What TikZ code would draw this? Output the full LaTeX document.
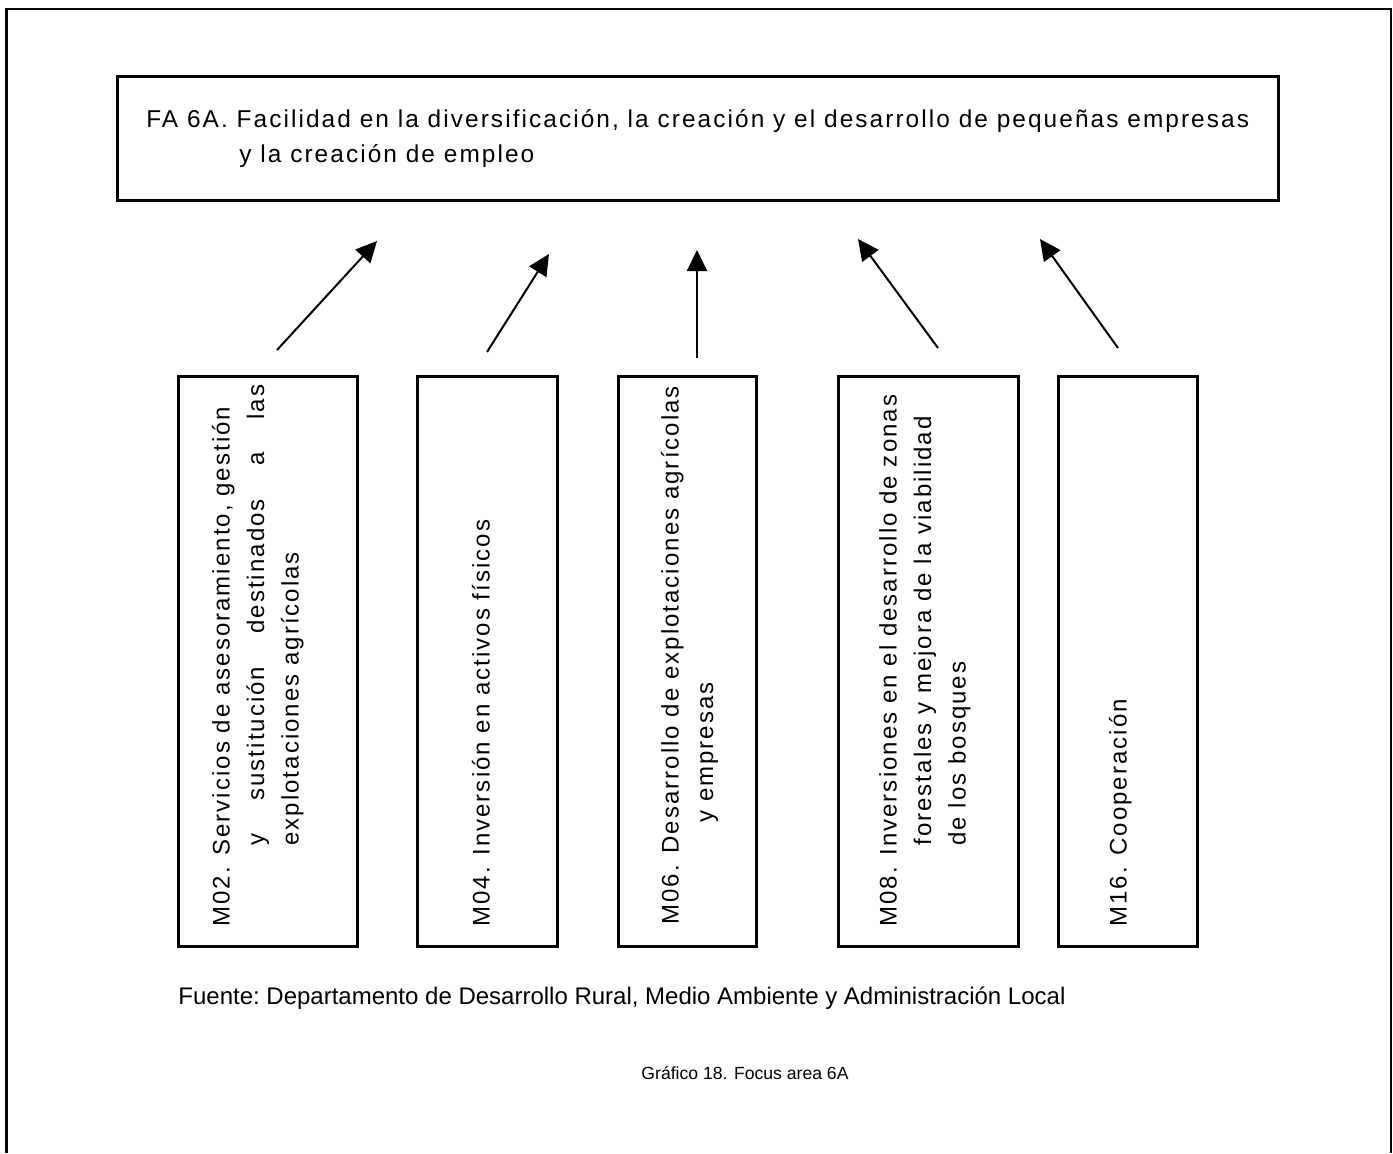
\documentclass[tikz,border=0pt]{standalone}
\usepackage{fontspec}
\setmainfont{Liberation Sans}
\newfontfamily\lsfont[LetterSpace=8.5]{Liberation Sans}
\usetikzlibrary{arrows.meta,positioning}
\tikzset{
  fabox/.style={
    draw,
    line width=1.5pt,
    minimum width=580.5pt,
    minimum height=62pt,
    align=left,
    inner sep=0pt,
    font=\lsfont\fontsize{12.2}{17.5}\selectfont
  },
  mbox/.style={
    draw,
    line width=1.5pt,
    minimum height=285pt,
    inner sep=0pt
  },
  mtext/.style={
    rotate=90,
    anchor=north west,
    align=left,
    inner sep=0pt,
    font=\lsfont\fontsize{12}{17.25}\selectfont
  },
  arrow/.style={-{Triangle[length=10.5pt,width=10pt]}, line width=1pt}
}

\begin{document}
\begin{tikzpicture}[x=0.5pt,y=-0.5pt]
  \useasboundingbox (0,0) rectangle (1393,1153);
  \draw[line width=1.2pt] (6.5,1153) -- (6.5,9) -- (1391,9) -- (1391,1153);

  \node[fabox] (fa) at (697.75,138.25) {FA 6A. Facilidad en la diversificación, la creación y el desarrollo de pequeñas empresas\\\hspace*{46.5pt}y la creación de empleo};

  \node[mbox, minimum width=89.25pt] (m02) at (267.75,661) {};
  \node[mbox, minimum width=69.75pt] (m04) at (487.25,661) {};
  \node[mbox, minimum width=69pt] (m06) at (687,661) {};
  \node[mbox, minimum width=90pt] (m08) at (928,661) {};
  \node[mbox, minimum width=69.5pt] (m16) at (1127.5,661) {};

  \node[mtext] (m02t) at (205,927) {\strut M02. Servicios de asesoramiento, gestión\\\hspace*{40.5pt}\makebox[230.5pt]{y\hfill sustitución\hfill destinados\hfill a\hfill las}\\\hspace*{40.5pt}explotaciones agrícolas};
  \node[mtext] (m04t) at (465,927) {\strut M04. Inversión en activos físicos};
  \node[mtext] (m06t) at (654,925) {\strut M06. Desarrollo de explotaciones agrícolas\\\hspace*{51pt}y empresas};
  \node[mtext] (m08t) at (872,927) {\strut M08. Inversiones en el desarrollo de zonas\\\hspace*{40.5pt}forestales y mejora de la viabilidad\\\hspace*{40.5pt}de los bosques};
  \node[mtext] (m16t) at (1102,927) {\strut M16. Cooperación};

  % arrow ends
  \coordinate (m02a) at (277,350);
  \coordinate (m04a) at (487,352);
  \coordinate (m06a) at (697,358);
  \coordinate (m08a) at (938,348);
  \coordinate (m16a) at (1118,348);
  \coordinate (fa1) at (377,241);
  \coordinate (fa2) at (549,254);
  \coordinate (fa3) at (697,250);
  \coordinate (fa4) at (858,239);
  \coordinate (fa5) at (1040,239);

  \draw[arrow] (m02a) -- (fa1);
  \draw[arrow] (m04a) -- (fa2);
  \draw[arrow] (m06a) -- (fa3);
  \draw[arrow] (m08a) -- (fa4);
  \draw[arrow] (m16a) -- (fa5);

  \node[anchor=base west, inner sep=0pt, font=\fontsize{12}{14}\selectfont\frenchspacing] (src) at (178,1004) {Fuente: Departamento de Desarrollo Rural, Medio Ambiente y Administración Local};
  \node[font=\fontsize{8.8}{10}\selectfont] (cap) at (745,1073) {Gráfico 18. Focus area 6A};
\end{tikzpicture}
\end{document}
